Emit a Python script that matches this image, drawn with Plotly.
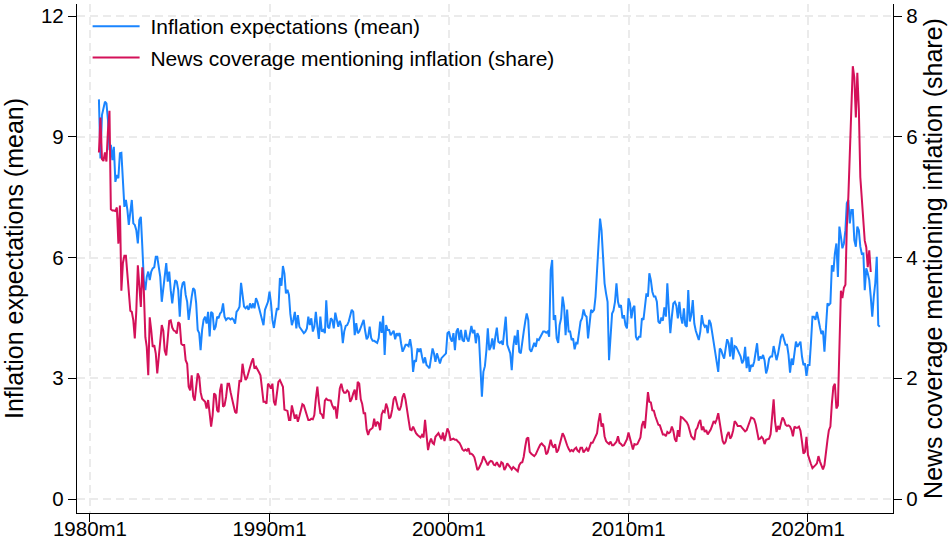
import pandas as pd
import plotly.graph_objects as go

# monthly values, blue starts 1980m7, red starts 1980m7
expect_mean = [
    9.93, 8.46, 9.54, 9.75, 9.87, 9.83,  # 1980 Jul-Dec
    9.42, 8.67, 8.8, 8.42, 8.75, 7.88, 8.05, 7.97, 8.59, 8.6, 7.9, 7.26,  # 1981
    7.43, 7.18, 6.81, 7.1, 7.43, 6.85, 6.81, 6.68, 6.35, 6.93, 7.01, 6.27,  # 1982
    5.44, 5.19, 5.52, 5.65, 5.44, 5.65, 5.73, 5.76, 6.02, 6.02, 5.77, 5.52,  # 1983
    4.9, 5.19, 5.52, 5.86, 5.4, 5.65, 5.19, 4.86, 5.19, 5.44, 5.4, 5.19,  # 1984
    4.53, 5.19, 5.36, 5.4, 5.07, 4.9, 4.45, 4.78, 5.03, 5.24, 5.19, 4.86,  # 1985
    4.2, 4.12, 3.7, 4.2, 4.45, 4.53, 4.36, 4.65, 4.04, 4.65, 4.61, 4.2,  # 1986
    4.28, 4.53, 4.49, 4.61, 4.65, 4.86, 4.53, 4.45, 4.49, 4.49, 4.46, 4.49,  # 1987
    4.45, 4.36, 4.65, 4.7, 4.78, 5.37, 5.0, 4.78, 4.74, 4.78, 4.7, 4.86,  # 1988
    4.74, 4.86, 4.74, 4.99, 4.9, 4.74, 4.65, 4.49, 4.32, 4.7, 4.78, 4.9,  # 1989
    5.15, 4.86, 4.45, 4.25, 4.5, 4.74, 4.7, 5.49, 5.3, 5.79, 5.6, 5.11,  # 1990
    5.2, 5.07, 4.6, 4.32, 4.45, 4.65, 4.24, 4.57, 4.28, 4.22, 4.16, 4.12,  # 1991
    4.16, 4.24, 4.53, 4.32, 4.49, 4.16, 4.28, 4.65, 4.28, 3.98, 4.53, 4.16,  # 1992
    4.2, 4.12, 4.94, 4.28, 4.24, 4.49, 4.45, 4.24, 4.63, 4.43, 4.28, 4.43,  # 1993
    4.3, 3.87, 4.16, 4.3, 4.32, 4.41, 4.55, 4.7, 4.65, 4.07, 4.37, 4.12,  # 1994
    4.16, 4.28, 4.38, 4.45, 4.18, 3.97, 4.03, 4.28, 4.0, 3.93, 3.93, 3.91,  # 1995
    3.88, 4.0, 4.41, 4.13, 4.55, 3.58, 4.32, 4.2, 4.2, 4.07, 4.12, 4.18,  # 1996
    3.97, 4.12, 4.07, 4.12, 3.87, 3.66, 3.74, 3.83, 3.83, 3.8, 3.97, 3.74,  # 1997
    3.16, 3.45, 3.41, 3.74, 3.66, 3.74, 3.54, 3.37, 3.52, 3.33, 3.29, 3.25,  # 1998
    3.5, 3.74, 3.62, 3.41, 3.62, 3.45, 3.37, 3.5, 3.54, 3.58, 3.62, 4.12,  # 1999
    4.16, 3.99, 3.91, 4.12, 3.7, 4.16, 4.24, 3.95, 4.2, 3.95, 3.91, 4.2,  # 2000
    3.99, 3.91, 4.12, 4.3, 4.12, 4.2, 3.87, 4.12, 4.03, 3.29, 2.54, 3.16,  # 2001
    3.3, 3.7, 4.24, 3.7, 3.78, 3.99, 3.72, 4.03, 4.26, 3.91, 3.88, 3.91,  # 2002
    3.83, 4.2, 4.53, 3.83, 3.74, 3.62, 3.2, 3.78, 4.06, 3.83, 4.2, 3.66,  # 2003
    3.62, 3.99, 4.16, 4.41, 4.61, 4.45, 3.72, 3.66, 3.78, 3.88, 3.78, 3.97,  # 2004
    3.95, 4.03, 4.1, 4.16, 4.16, 4.13, 4.16, 4.03, 5.69, 5.94, 4.45, 4.57,  # 2005
    3.99, 3.88, 4.32, 4.49, 5.03, 4.78, 4.07, 4.71, 4.16, 4.16, 3.95, 3.99,  # 2006
    3.72, 3.88, 3.87, 4.16, 4.41, 4.49, 4.71, 4.57, 4.53, 3.99, 4.41, 4.7,  # 2007
    4.65, 4.7, 5.03, 5.69, 6.52, 6.97, 6.68, 6.02, 5.36, 5.11, 4.9, 3.45,  # 2008
    4.03, 4.61, 4.68, 4.9, 5.36, 4.9, 4.76, 4.82, 4.49, 4.57, 4.32, 4.24,  # 2009
    4.99, 4.86, 4.49, 4.74, 4.8, 4.03, 3.95, 4.03, 4.03, 4.49, 4.45, 4.86,  # 2010
    5.11, 5.03, 5.61, 5.44, 5.15, 5.03, 5.03, 4.9, 4.41, 4.36, 4.51, 4.43,  # 2011
    4.76, 4.53, 5.36, 4.7, 4.12, 4.53, 4.86, 4.9, 4.8, 4.49, 4.9, 4.53,  # 2012
    4.36, 4.74, 4.32, 4.28, 5.19, 4.41, 4.57, 4.94, 4.36, 4.18, 4.03, 3.95,  # 2013
    4.16, 4.57, 4.36, 4.28, 4.32, 4.12, 4.45, 4.36, 4.12, 3.87, 3.58, 3.37,  # 2014
    3.16, 3.74, 3.7, 3.58, 3.49, 3.74, 3.97, 3.87, 3.54, 4.02, 3.47, 3.8,  # 2015
    3.78, 3.7, 3.64, 3.54, 3.37, 3.45, 3.78, 3.25, 3.54, 3.16, 3.33, 3.29,  # 2016
    3.41, 3.7, 3.87, 3.44, 3.54, 3.49, 3.58, 3.44, 3.12, 3.25, 3.49, 3.54,  # 2017
    3.54, 3.8, 3.64, 3.45, 3.6, 3.85, 4.03, 4.1, 3.95, 3.83, 3.83, 3.58,  # 2018
    3.14, 3.49, 3.33, 3.66, 3.91, 3.78, 3.83, 3.91, 3.54, 3.33, 3.37, 3.06,  # 2019
    3.33, 3.33, 3.87, 4.53, 4.53, 4.45, 4.65, 4.41, 4.26, 4.1, 4.18, 3.66,  # 2020
    4.2, 4.86, 4.82, 4.86, 5.81, 5.65, 6.1, 6.35, 5.52, 6.77, 6.52, 6.23,  # 2021
    6.35, 6.68, 7.35, 7.43, 6.85, 7.18, 7.18, 6.43, 6.27, 6.77, 6.68, 6.27,  # 2022
    6.09, 6.1, 5.19, 5.73, 5.61, 5.44, 5.03, 4.53, 5.03, 5.36, 6.02, 4.32,  # 2023
    4.28,  # 2024 Jan
]

news_share = [
    5.74, 6.32, 5.63, 5.6, 5.74, 5.59,  # 1980 Jul-Dec
    6.1, 6.43, 4.8, 4.78, 4.78, 4.77, 4.83, 4.23, 4.86, 3.45, 3.91, 4.03,  # 1981
    4.03, 3.73, 3.4, 3.12, 3.1, 2.96, 2.66, 3.12, 3.87, 3.54, 3.18, 3.84,  # 1982
    3.45, 2.68, 2.52, 2.05, 3.01, 2.79, 2.52, 2.55, 2.41, 2.08, 2.35, 2.55,  # 1983
    2.88, 2.79, 2.46, 2.38, 2.74, 2.95, 2.96, 2.84, 2.79, 2.78, 2.74, 2.93,  # 1984
    2.9, 2.57, 2.55, 2.55, 2.3, 2.24, 1.86, 1.8, 2.05, 1.7, 1.63, 1.86,  # 1985
    2.08, 2.02, 1.77, 1.66, 1.63, 1.61, 1.5, 1.64, 1.42, 1.2, 1.39, 1.75,  # 1986
    1.72, 1.47, 1.44, 1.8, 1.91, 1.53, 1.55, 1.69, 1.91, 1.91, 1.77, 1.64,  # 1987
    1.55, 1.44, 1.42, 1.72, 1.97, 1.94, 2.24, 2.08, 1.97, 2.01, 2.1, 2.21,  # 1988
    2.27, 2.33, 2.16, 2.19, 2.13, 2.1, 2.05, 1.86, 1.61, 1.61, 1.58, 1.91,  # 1989
    1.88, 1.83, 1.91, 1.61, 1.55, 1.75, 1.94, 1.97, 1.91, 1.86, 1.48, 1.47,  # 1990
    1.46, 1.31, 1.31, 1.55, 1.42, 1.33, 1.4, 1.28, 1.37, 1.5, 1.57, 1.55,  # 1991
    1.48, 1.4, 1.31, 1.31, 1.33, 1.32, 1.39, 1.66, 1.86, 1.61, 1.42, 1.4,  # 1992
    1.33, 1.63, 1.66, 1.64, 1.64, 1.63, 1.55, 1.5, 1.53, 1.33, 1.58, 1.83,  # 1993
    1.91, 1.8, 1.76, 1.76, 1.8, 1.77, 1.61, 1.66, 1.75, 1.81, 1.64, 1.94,  # 1994
    1.91, 1.65, 1.58, 1.42, 1.42, 1.15, 1.06, 1.14, 1.16, 1.18, 1.33, 1.2,  # 1995
    1.28, 1.25, 1.14, 1.4, 1.46, 1.44, 1.58, 1.5, 1.33, 1.36, 1.48, 1.65,  # 1996
    1.7, 1.58, 1.5, 1.47, 1.54, 1.69, 1.75, 1.64, 1.5, 1.31, 1.15, 1.14,  # 1997
    1.2, 1.14, 1.09, 1.06, 1.04, 1.02, 1.06, 1.02, 1.31, 1.0, 0.81, 0.93,  # 1998
    1.0, 0.93, 0.91, 1.03, 1.07, 1.09, 1.04, 0.99, 1.1, 0.96, 1.06, 1.17,  # 1999
    1.11, 0.98, 0.99, 1.0, 0.98, 0.98, 0.95, 0.93, 0.88, 0.82, 0.8, 0.82,  # 2000
    0.8, 0.84, 0.75, 0.75, 0.73, 0.69, 0.59, 0.48, 0.51, 0.56, 0.62, 0.71,  # 2001
    0.65, 0.61, 0.56, 0.61, 0.63, 0.62, 0.57, 0.56, 0.61, 0.56, 0.53, 0.61,  # 2002
    0.59, 0.48, 0.52, 0.59, 0.56, 0.52, 0.49, 0.53, 0.51, 0.48, 0.46, 0.56,  # 2003
    0.6, 0.61, 0.7, 0.87, 1.0, 1.02, 0.78, 0.75, 0.73, 0.71, 0.74, 0.81,  # 2004
    0.85, 0.9, 0.92, 0.89, 0.87, 0.74, 0.77, 0.87, 0.98, 0.89, 0.85, 0.91,  # 2005
    0.77, 0.81, 0.91, 1.0, 1.09, 1.04, 0.95, 0.89, 0.83, 0.79, 0.81, 0.79,  # 2006
    0.83, 0.85, 0.8, 0.78, 0.85, 0.85, 0.77, 0.81, 0.84, 0.79, 0.85, 0.93,  # 2007
    0.93, 0.99, 1.04, 1.09, 1.28, 1.42, 1.2, 1.25, 1.04, 0.96, 0.93, 0.91,  # 2008
    0.95, 0.89, 0.89, 0.92, 0.95, 1.04, 0.93, 0.91, 0.88, 0.89, 0.93, 0.99,  # 2009
    1.1, 1.0, 0.88, 0.82, 0.91, 0.9, 0.91, 0.96, 1.02, 1.22, 1.29, 1.17,  # 2010
    1.5, 1.77, 1.61, 1.6, 1.47, 1.46, 1.37, 1.28, 1.23, 1.22, 1.15, 1.07,  # 2011
    1.07, 1.04, 1.11, 1.09, 1.11, 1.2, 1.13, 0.99, 0.95, 1.14, 1.03, 1.36,  # 2012
    1.35, 1.32, 1.29, 1.27, 1.22, 1.14, 1.04, 1.01, 0.98, 1.14, 1.18, 1.26,  # 2013
    1.31, 1.14, 1.2, 1.11, 1.14, 1.07, 1.1, 1.15, 1.22, 1.29, 1.26, 1.32,  # 2014
    1.42, 1.24, 1.11, 0.96, 0.91, 0.95, 1.06, 1.11, 1.0, 1.04, 1.14, 1.29,  # 2015
    1.26, 1.21, 1.21, 1.21, 1.18, 1.14, 1.12, 1.14, 1.22, 1.27, 1.35, 1.34,  # 2016
    1.32, 1.24, 1.09, 0.99, 1.0, 1.03, 1.0, 0.91, 0.98, 0.99, 1.0, 1.07,  # 2017
    1.31, 1.65, 1.29, 1.11, 1.21, 1.15, 1.26, 1.35, 1.31, 1.23, 1.21, 1.22,  # 2018
    1.2, 1.14, 1.04, 1.2, 1.18, 1.18, 1.2, 1.13, 0.95, 0.75, 0.78, 1.03,  # 2019
    0.73, 0.63, 0.58, 0.51, 0.53, 0.56, 0.59, 0.71, 0.62, 0.56, 0.49, 0.56,  # 2020
    0.73, 0.98, 1.14, 1.2, 1.58, 1.86, 1.91, 1.5, 1.55, 2.57, 3.45, 3.33,  # 2021
    3.5, 3.55, 4.5, 5.0, 5.77, 6.73, 7.17, 6.98, 6.32, 7.06, 6.46, 5.33,  # 2022
    5.01, 4.64, 4.28, 4.17, 3.84, 4.12, 3.76,  # 2023 Jan-Jul
]

tick_dates = ['1980-01-01', '1990-01-01', '2000-01-01', '2010-01-01', '2020-01-01']
tick_labels = ['1980m1', '1990m1', '2000m1', '2010m1', '2020m1']
left_ticks = [0, 3, 6, 9, 12]
right_ticks = [0, 2, 4, 6, 8]

blue = '#1A85FF'
red = '#D41159'
grid = '#EBEBEB'
font = 'Liberation Sans, Arial, Helvetica, sans-serif'
nbsp = '\u00a0'

dates_blue = pd.date_range('1980-07-01', periods=len(expect_mean), freq='MS')
dates_red = pd.date_range('1980-07-01', periods=len(news_share), freq='MS')

fig = go.Figure()
fig.add_trace(go.Scatter(x=dates_blue, y=expect_mean, mode='lines',
                         name=nbsp + 'Inflation expectations (mean)',
                         line=dict(color=blue, width=2), legendgroup='a'))
fig.add_trace(go.Scatter(x=dates_red, y=news_share, mode='lines',
                         name=nbsp + 'News coverage mentioning inflation (share)',
                         line=dict(color=red, width=2), yaxis='y2', legendgroup='b'))

axis_common = dict(showline=True, linecolor='black', linewidth=1.3,
                   ticks='outside', ticklen=8, tickwidth=1.3, tickcolor='black',
                   zeroline=False, automargin=False,
                   tickfont=dict(size=20.5, color='black'))

fig.update_layout(
    width=949, height=546,
    margin=dict(l=77, r=56, t=4, b=33),
    plot_bgcolor='white', paper_bgcolor='white',
    font=dict(family=font, size=21, color='black'),
    showlegend=True,
    legend=dict(x=0.013, y=0.996, xanchor='left', yanchor='top',
                bgcolor='rgba(0,0,0,0)', font=dict(size=21),
                itemwidth=47, tracegroupgap=1),
    xaxis=dict(type='date', range=['1979-04-12', '2024-09-26'],
               tickvals=tick_dates, ticktext=tick_labels, ticklabelstandoff=-11,
               showgrid=True, gridcolor=grid, griddash='8px,5px', gridwidth=1.5,
               **axis_common),
    yaxis=dict(range=[-0.348, 12.3], tickvals=left_ticks,
               title=dict(text='Inflation expectations (mean)', standoff=14),
               showgrid=True, gridcolor=grid, griddash='8px,5px', gridwidth=1.5,
               **axis_common),
    yaxis2=dict(range=[-0.232, 8.2], tickvals=right_ticks, overlaying='y', side='right',
                title=dict(text='News coverage mentioning inflation (share)', standoff=7),
                showgrid=False, **axis_common),
)

# drop the page's default body margin so the figure sits at the window's corner
fig.write_html('out.html', config={'displayModeBar': False},
               post_script="document.body.style.margin='0';")
